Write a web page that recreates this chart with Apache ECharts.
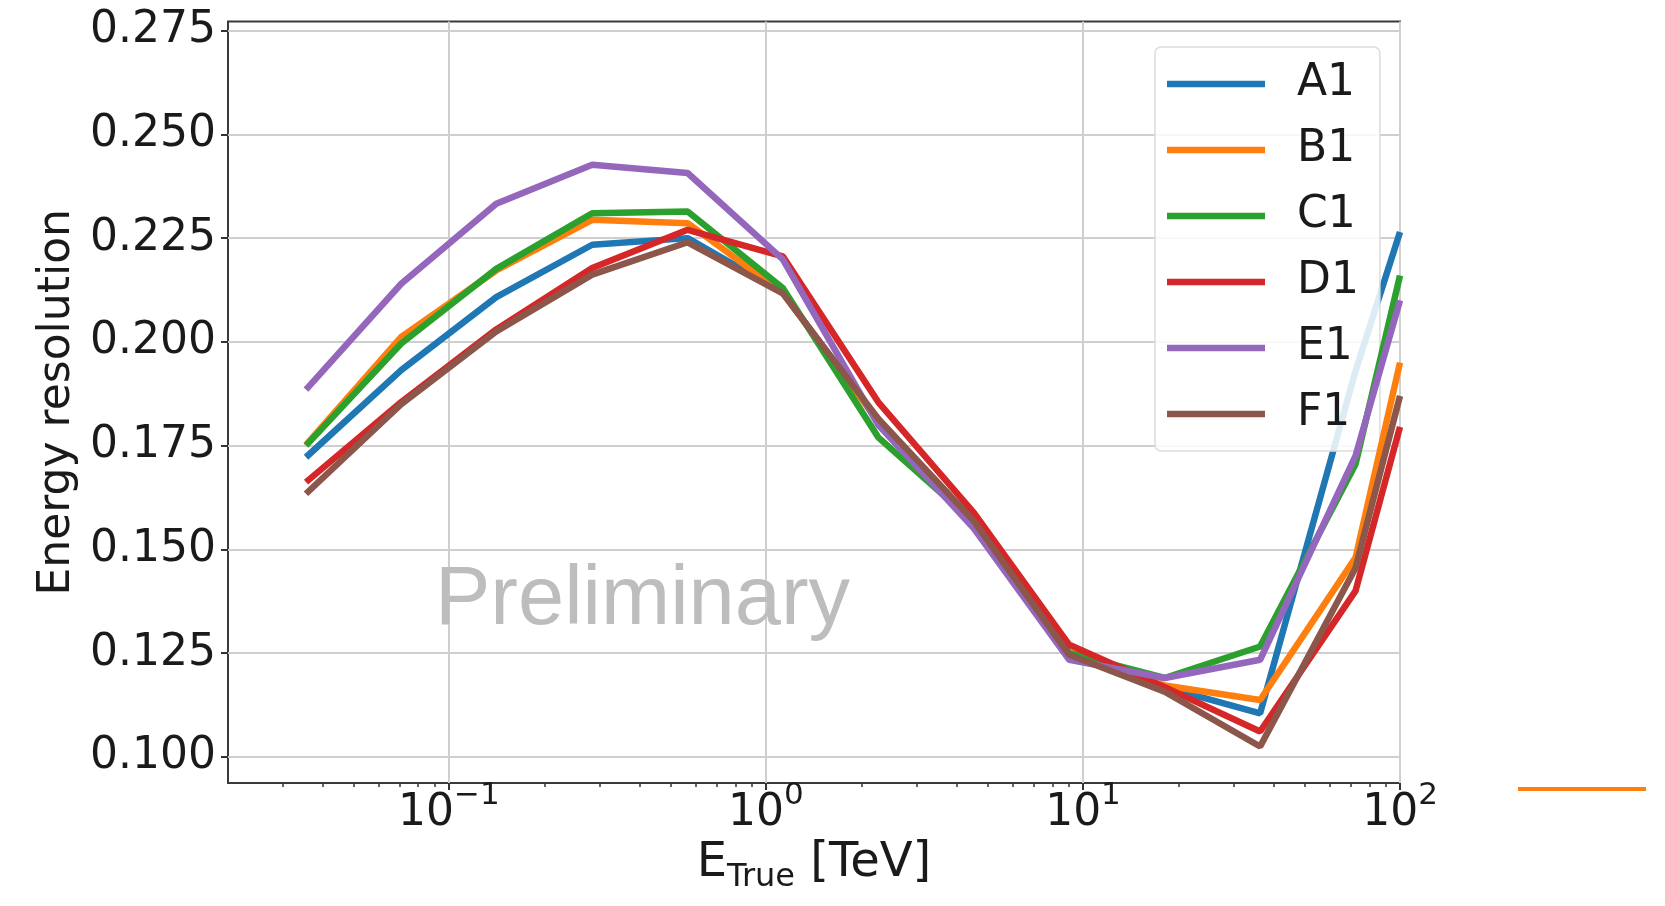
<!DOCTYPE html>
<html><head><meta charset="utf-8">
<script src="https://cdn.jsdelivr.net/npm/echarts@6/dist/echarts.min.js"></script>
<style>html,body{margin:0;padding:0;background:#fff}#c{width:1665px;height:906px}</style>
</head><body><div id="c"></div>
<script>
// ---- data ----
const energies = [0.0354, 0.0707, 0.141, 0.283, 0.566, 1.13, 2.26, 4.53, 9.05, 18.1, 36.2, 72.4, 100];
const seriesNames = ['A1', 'B1', 'C1', 'D1', 'E1', 'F1'];
const A1 = [0.1722, 0.1932, 0.2108, 0.2234, 0.2250, 0.2118, 0.1810, 0.1568, 0.1250, 0.1168, 0.1105, 0.1930, 0.2265];
const B1 = [0.1752, 0.2012, 0.2172, 0.2294, 0.2286, 0.2118, 0.1808, 0.1568, 0.1252, 0.1172, 0.1137, 0.1480, 0.1950];
const C1 = [0.1750, 0.1996, 0.2176, 0.2310, 0.2314, 0.2130, 0.1770, 0.1565, 0.1250, 0.1190, 0.1266, 0.1705, 0.2160];
const D1 = [0.1662, 0.1855, 0.2030, 0.2178, 0.2270, 0.2206, 0.1855, 0.1588, 0.1270, 0.1168, 0.1061, 0.1400, 0.1795];
const E1 = [0.1885, 0.2140, 0.2333, 0.2427, 0.2407, 0.2199, 0.1800, 0.1550, 0.1234, 0.1190, 0.1234, 0.1725, 0.2100];
const F1 = [0.1634, 0.1850, 0.2025, 0.2162, 0.2240, 0.2117, 0.1815, 0.1568, 0.1246, 0.1157, 0.1025, 0.1455, 0.1870];
const yTicks = [0.100, 0.125, 0.150, 0.175, 0.200, 0.225, 0.250, 0.275];
const xTicks = [0.1, 1, 10, 100];
const xMinorTicks = [0.03, 0.04, 0.05, 0.06, 0.07, 0.08, 0.09,
  0.2, 0.3, 0.4, 0.5, 0.6, 0.7, 0.8, 0.9,
  2, 3, 4, 5, 6, 7, 8, 9,
  20, 30, 40, 50, 60, 70, 80, 90];
const xTitle = '{m|E}{s|True}{m| [TeV]}';
const yTitle = 'Energy resolution';
const watermark = 'Preliminary';

// ---- styling ----
const colors = ['#1f77b4', '#ff7f0e', '#2ca02c', '#d62728', '#9467bd', '#8c564b'];
const FONT = 'DejaVu Sans';
const TXT = '#1a1a1a';
const allValues = [A1, B1, C1, D1, E1, F1];

const chart = echarts.init(document.getElementById('c'), null, {renderer: 'canvas'});

const series = seriesNames.map((name, i) => ({
  name: name,
  type: 'line',
  xAxisIndex: 0,
  yAxisIndex: 0,
  symbol: 'none',
  showSymbol: false,
  data: energies.map((e, j) => [e, allValues[i][j]]),
  lineStyle: {width: 6.5, color: colors[i]},
  itemStyle: {color: colors[i]},
  z: 3 + i
}));

function supLabel(v) {
  const e = Math.round(Math.log10(v));
  const s = e < 0 ? '\u2212' + (-e) : String(e);
  return '{m|10}{s|' + s + '}';
}

const option = {
  animation: false,
  backgroundColor: '#ffffff',
  grid: {
    left: 228, right: 265, top: 21.5, bottom: 123,
    show: true, borderColor: '#3a3a3a', borderWidth: 2,
    backgroundColor: 'transparent',
    outerBoundsMode: 'none'
  },
  xAxis: [{
    type: 'log',
    logBase: 10,
    min: 0.02009,
    max: 100,
    axisLine: {show: false},
    axisTick: {show: true, customValues: xTicks, length: 7, lineStyle: {color: '#333', width: 2}},
    splitLine: {show: true, lineStyle: {color: '#cfcfcf', width: 2}},
    axisLabel: {
      customValues: xTicks,
      margin: -3,
      formatter: supLabel,
      rich: {
        m: {fontSize: 44, fontFamily: FONT, color: TXT},
        s: {fontSize: 31, fontFamily: FONT, color: TXT, padding: [0, 0, 36, 0]}
      }
    },
    name: xTitle,
    nameLocation: 'middle',
    nameGap: 51,
    nameMoveOverlap: false,
    nameTextStyle: {
      rich: {
        m: {fontSize: 48, fontFamily: FONT, color: TXT},
        s: {fontSize: 32, fontFamily: FONT, color: TXT, padding: [28, 0, 0, 0]}
      }
    }
  }, {
    type: 'log',
    logBase: 10,
    min: 0.02009,
    max: 100,
    position: 'bottom',
    axisLine: {show: false},
    axisTick: {show: true, customValues: xMinorTicks, length: 4, lineStyle: {color: '#333', width: 1.5}},
    splitLine: {show: false},
    axisLabel: {show: false}
  }],
  yAxis: [{
    type: 'value',
    min: 0.0937,
    max: 0.2772,
    axisLine: {show: false},
    axisTick: {show: true, customValues: yTicks, length: 7, lineStyle: {color: '#333', width: 2}},
    splitLine: {show: true, lineStyle: {color: '#cfcfcf', width: 2}},
    axisLabel: {
      customValues: yTicks,
      margin: 12,
      fontSize: 44, fontFamily: FONT, color: TXT,
      formatter: v => v.toFixed(3)
    },
    name: yTitle,
    nameLocation: 'middle',
    nameGap: 148,
    nameMoveOverlap: false,
    nameTextStyle: {fontSize: 44, fontFamily: FONT, color: TXT}
  }],
  legend: {
    orient: 'vertical',
    left: 1155, top: 47,
    padding: [15, 21, 15, 12],
    itemWidth: 98, itemHeight: 6.5, itemGap: 22,
    icon: 'rect',
    data: seriesNames,
    textStyle: {fontSize: 44, fontFamily: FONT, color: TXT, lineHeight: 44, padding: [0, 0, 0, 27]},
    backgroundColor: 'rgba(255,255,255,0.85)',
    borderColor: '#dcdcdc', borderWidth: 1.5, borderRadius: 6,
    selectedMode: false
  },
  graphic: [{
    type: 'text',
    x: 435, y: 601, z: 1,
    style: {text: watermark, fontSize: 83, fontFamily: 'Liberation Sans', fill: '#bdbdbd', verticalAlign: 'middle', align: 'left'}
  }, {
    type: 'line',
    shape: {x1: 1518, y1: 789, x2: 1646, y2: 789},
    style: {stroke: '#ff7f0e', lineWidth: 4}
  }],
  series: series
};
chart.setOption(option);
</script>
</body></html>
